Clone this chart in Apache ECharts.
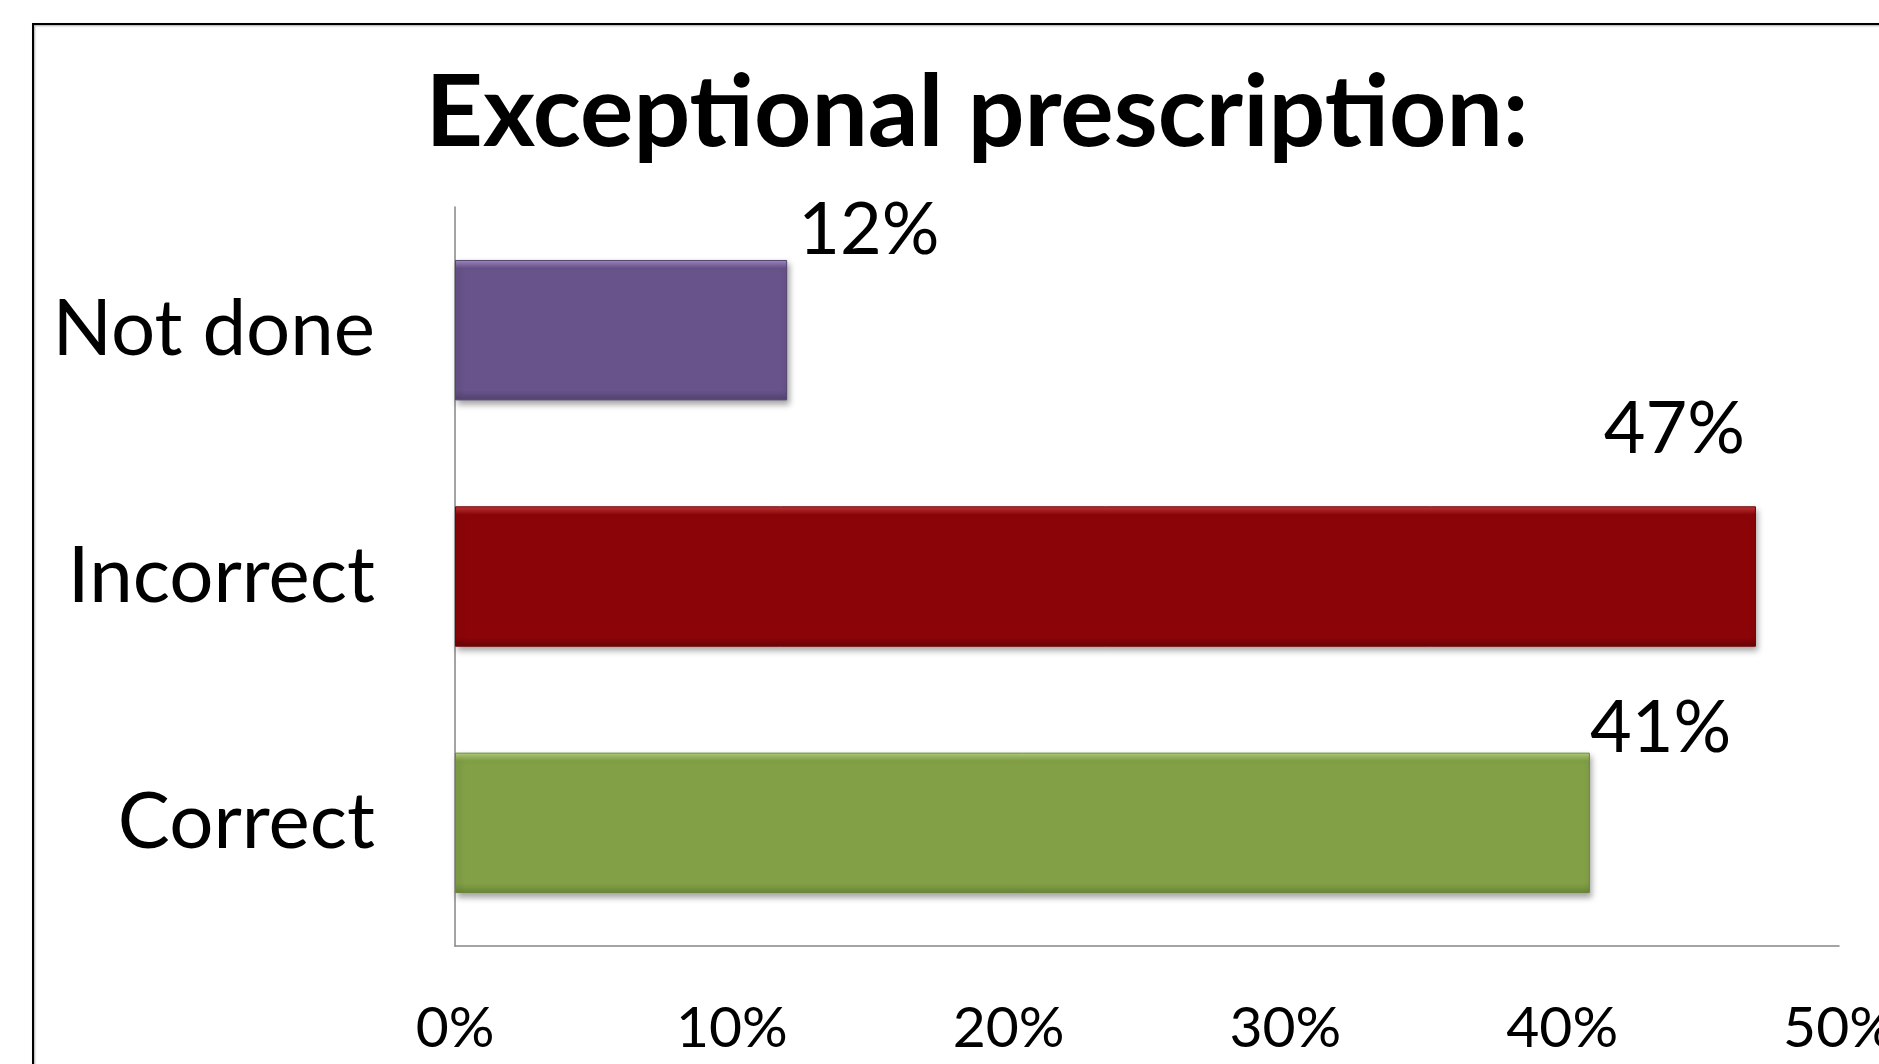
<!DOCTYPE html>
<html>
<head>
<meta charset="utf-8">
<style>
html,body{margin:0;padding:0;background:#fff;overflow:hidden;}
#chart{width:1879px;height:1064px;}
</style>
<script src="https://cdn.jsdelivr.net/npm/echarts@6/dist/echarts.min.js"></script>
</head>
<body>
<div id="chart"></div>
<script>
const titleText = 'Exceptional prescription:';
const categories = ['Correct', 'Incorrect', 'Not done'];
const values = [41, 47, 12];
const xTicks = { min: 0, max: 50, interval: 10 };

const FONT = 'Lato, "Open Sans", sans-serif';
const colors = {
  'Correct':   ['#b4d27c', '#82a046', '#6b8639'],
  'Incorrect': ['#c9393b', '#8b0508', '#6d0406'],
  'Not done':  ['#a48ec6', '#68538a', '#524270']
};
const labelPlace = {
  'Not done':  { align: 'left',  offset: [11, -29] },
  'Incorrect': { align: 'right', offset: [-11, -77] },
  'Correct':   { align: 'left',  offset: [0, -24] }
};

function barStyle(name) {
  const c = colors[name];
  return {
    color: new echarts.graphic.LinearGradient(0, 0, 0, 1, [
      { offset: 0, color: c[0] },
      { offset: 0.06, color: c[1] },
      { offset: 0.93, color: c[1] },
      { offset: 1, color: c[2] }
    ]),
    borderColor: c[2],
    borderWidth: 1,
    shadowColor: 'rgba(0,0,0,0.35)',
    shadowBlur: 6,
    shadowOffsetX: 2,
    shadowOffsetY: 4
  };
}

const chart = echarts.init(document.getElementById('chart'), null, { renderer: 'canvas', width: 1879, height: 1064 });
chart.setOption({
  backgroundColor: '#ffffff',
  animation: false,
  title: {
    text: titleText,
    left: 977,
    textAlign: 'center',
    top: 64,
    padding: 0,
    textStyle: { fontFamily: FONT, fontWeight: 'bold', fontSize: 100, color: '#000' }
  },
  graphic: [{
    type: 'rect',
    shape: { x: 33, y: 24, width: 1900, height: 1100 },
    style: { fill: 'none', stroke: '#000', lineWidth: 2, shadowColor: 'rgba(0,0,0,0.35)', shadowBlur: 2, shadowOffsetX: 1, shadowOffsetY: 1 },
    silent: true
  }],
  grid: { left: 455, right: 40, top: 207, bottom: 118, containLabel: false, outerBoundsMode: 'none' },
  xAxis: {
    type: 'value',
    min: xTicks.min, max: xTicks.max, interval: xTicks.interval,
    axisLine: { show: true, lineStyle: { color: '#868686', width: 1.5 } },
    axisTick: { show: false },
    splitLine: { show: false },
    axisLabel: {
      formatter: '{value}%', fontFamily: FONT, fontSize: 57, color: '#000', margin: 54,
      showMaxLabel: true
    }
  },
  yAxis: {
    type: 'category',
    data: categories,
    axisLine: { show: true, lineStyle: { color: '#868686', width: 1.5 } },
    axisTick: { show: false },
    axisLabel: { fontFamily: FONT, fontSize: 78, color: '#000', margin: 80 }
  },
  series: [{
    type: 'bar',
    barWidth: '57%',
    data: categories.map((name, i) => ({
      value: values[i],
      itemStyle: barStyle(name),
      label: {
        show: true,
        position: ['100%', 0],
        align: labelPlace[name].align,
        verticalAlign: 'middle',
        offset: labelPlace[name].offset,
        formatter: '{c}%',
        fontFamily: FONT,
        fontSize: 72,
        color: '#000'
      }
    }))
  }]
});
</script>
</body>
</html>
